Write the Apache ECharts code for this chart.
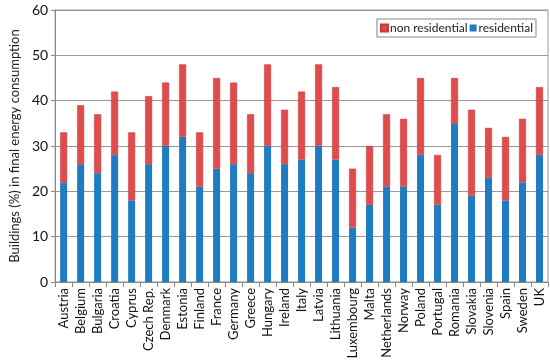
<!DOCTYPE html>
<html><head><meta charset="utf-8">
<script src="https://cdn.jsdelivr.net/npm/echarts@6/dist/echarts.min.js"></script>
<style>html,body{margin:0;padding:0;background:#fff}#c{width:550px;height:362px}</style>
</head><body><div id="c"></div>
<script>
var countries = ["Austria","Belgium","Bulgaria","Croatia","Cyprus","Czech Rep.","Denmark","Estonia","Finland","France","Germany","Greece","Hungary","Ireland","Italy","Latvia","Lithuania","Luxembourg","Malta","Netherlands","Norway","Poland","Portugal","Romania","Slovakia","Slovenia","Spain","Sweden","UK"];
var residential = [22,26,24,28,18,26,30,32,21,25,26,24,30,26,27,30,27,12,17,21,21,28,17,35,19,23,18,22,28];
var nonResidential = [11,13,13,14,15,15,14,16,12,20,18,13,18,12,15,18,16,13,13,16,15,17,11,10,19,11,14,14,15];
var yTicks = [0,10,20,30,40,50,60];

var chart = echarts.init(document.getElementById('c'));
var font = 'Lato';
chart.setOption({
  animation: false,
  textStyle: {fontFamily: font},
  grid: {left: 44, right: 2, top: 10, bottom: 80, show: true, borderColor: '#999', borderWidth: 1},
  legend: {
    right: 14, top: 19, orient: 'horizontal',
    data: ['non residential', 'residential'],
    itemWidth: 7, itemHeight: 7, itemGap: 2,
    borderColor: '#888', borderWidth: 1, padding: [3, 3, 3, 3],
    textStyle: {fontSize: 12, color: '#222', fontFamily: font, padding: [0,0,0,-3]},
    icon: 'rect'
  },
  xAxis: {
    type: 'category', data: countries,
    axisLine: {lineStyle: {color: '#888'}},
    axisTick: {show: true, length: 5, lineStyle: {color: '#888'}},
    axisLabel: {rotate: 90, fontSize: 13, color: '#111', interval: 0, margin: 6, fontFamily: font}
  },
  yAxis: {
    type: 'value', min: yTicks[0], max: yTicks[yTicks.length-1], interval: 10,
    name: 'Buildings (%) in final energy consumption', nameLocation: 'middle', nameGap: 28,
    nameTextStyle: {fontSize: 13, color: '#222', fontFamily: font},
    axisLine: {show: true, lineStyle: {color: '#888'}},
    axisTick: {show: true, length: 4, lineStyle: {color: '#888'}},
    axisLabel: {fontSize: 14, color: '#111', margin: 7, fontFamily: font},
    splitLine: {lineStyle: {color: '#999'}}
  },
  series: [
    {name: 'residential', type: 'bar', stack: 's', data: residential, barWidth: 7,
     itemStyle: {color: '#1f7cc2'}},
    {name: 'non residential', type: 'bar', stack: 's', data: nonResidential, barWidth: 7,
     itemStyle: {color: '#e04b4b', borderColor: '#c43a3a', borderWidth: 0.5}}
  ]
});
</script></body></html>
